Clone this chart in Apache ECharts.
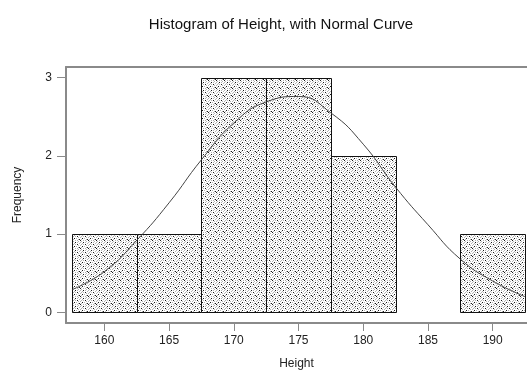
<!DOCTYPE html>
<html>
<head>
<meta charset="utf-8">
<title>Histogram of Height</title>
<script src="https://cdn.jsdelivr.net/npm/echarts@6/dist/echarts.min.js"></script>
<style>
  html, body { margin: 0; padding: 0; background: #fff; }
  #chart { width: 527px; height: 375px; }
</style>
</head>
<body>
<div id="chart"></div>
<script>
// Histogram bins (class edges) and their counts
const binStart = [157.5, 162.5, 167.5, 172.5, 177.5, 182.5, 187.5];
const binEnd   = [162.5, 167.5, 172.5, 177.5, 182.5, 187.5, 192.5];
const frequency = [1, 1, 3, 3, 2, 0, 1];

// Fitted normal curve, scaled to counts
const curveX = [157.5, 160, 162.5, 165, 167.5, 170, 172.5, 175, 177.5, 180, 182.5, 185, 187.5, 190, 192.5];
const curveY = [0.29, 0.52, 0.92, 1.40, 1.95, 2.42, 2.69, 2.76, 2.55, 2.15, 1.60, 1.12, 0.68, 0.40, 0.20];

// Axis tick labels
const xTicks = [160, 165, 170, 175, 180, 185, 190];
const yTicks = [0, 1, 2, 3];

// Stipple texture used to fill the bars
function stipple() {
  const rows = [
    'k..g.g..',
    '.g....g.',
    'g..k.g..',
    '..g....g',
    '.g.g.k..',
    'g.....g.',
    '..k.g...',
    '.g....gk'
  ];
  const c = document.createElement('canvas');
  c.width = 8; c.height = 8;
  const ctx = c.getContext('2d');
  ctx.fillStyle = '#ffffff';
  ctx.fillRect(0, 0, 8, 8);
  rows.forEach((r, y) => {
    for (let x = 0; x < 8; x++) {
      if (r[x] === 'k') { ctx.fillStyle = '#1a1a1a'; ctx.fillRect(x, y, 1, 1); }
      else if (r[x] === 'g') { ctx.fillStyle = '#b4b4b4'; ctx.fillRect(x, y, 1, 1); }
    }
  });
  return c;
}

const frameColor = '#8a8a8a';
const textColor = '#222';
const font = 'Liberation Sans, Arial, sans-serif';

const chart = echarts.init(document.getElementById('chart'), null, { renderer: 'canvas' });
const texture = stipple();

chart.setOption({
  animation: false,
  title: {
    text: 'Histogram of Height, with Normal Curve',
    left: 276,
    textAlign: 'center',
    top: 12,
    textStyle: { fontSize: 15, fontWeight: 'normal', color: '#111', fontFamily: font }
  },
  grid: { left: 66, right: 0, top: 67, bottom: 52 },
  xAxis: [{
    type: 'value',
    min: 157.04,
    max: 192.65,
    name: 'Height',
    nameLocation: 'middle',
    nameGap: 35,
    nameTextStyle: { fontSize: 12, color: textColor, fontFamily: font },
    axisLine: { show: true, onZero: false, lineStyle: { color: frameColor, width: 2 } },
    axisTick: { show: true, length: 8, customValues: xTicks, lineStyle: { color: frameColor, width: 1 } },
    axisLabel: { customValues: xTicks, fontSize: 12, color: textColor, margin: 12, fontFamily: font },
    splitLine: { show: false }
  }, {
    type: 'value',
    position: 'top',
    min: 157.04,
    max: 192.65,
    axisLine: { show: true, onZero: false, lineStyle: { color: frameColor, width: 2 } },
    axisTick: { show: false },
    axisLabel: { show: false },
    splitLine: { show: false }
  }],
  yAxis: {
    type: 'value',
    min: -0.137,
    max: 3.137,
    name: 'Frequency',
    nameLocation: 'middle',
    nameGap: 42,
    nameTextStyle: { fontSize: 12, color: textColor, fontFamily: font },
    axisLine: { show: true, onZero: false, lineStyle: { color: frameColor, width: 2 } },
    axisTick: { show: true, length: 9, customValues: yTicks, lineStyle: { color: frameColor, width: 1 } },
    axisLabel: { customValues: yTicks, fontSize: 12, color: textColor, margin: 14, fontFamily: font },
    splitLine: { show: false }
  },
  series: [{
    type: 'custom',
    xAxisIndex: 0,
    data: binStart.map((s, i) => [s, binEnd[i], frequency[i]]),
    renderItem: function (params, api) {
      const count = api.value(2);
      if (!count) return null;
      const p0 = api.coord([api.value(0), 0]);
      const p1 = api.coord([api.value(1), count]);
      return {
        type: 'rect',
        shape: {
          x: Math.round(p0[0]) + 0.5,
          y: Math.round(p1[1]) + 0.5,
          width: Math.round(p1[0]) - Math.round(p0[0]),
          height: Math.round(p0[1]) - Math.round(p1[1])
        },
        style: {
          fill: { image: texture, repeat: 'repeat' },
          stroke: '#111',
          lineWidth: 1
        }
      };
    },
    z: 2
  }, {
    type: 'line',
    xAxisIndex: 0,
    data: curveX.map((x, i) => [x, curveY[i]]),
    smooth: true,
    showSymbol: false,
    lineStyle: { color: '#444', width: 1 },
    z: 3
  }]
});
</script>
</body>
</html>
